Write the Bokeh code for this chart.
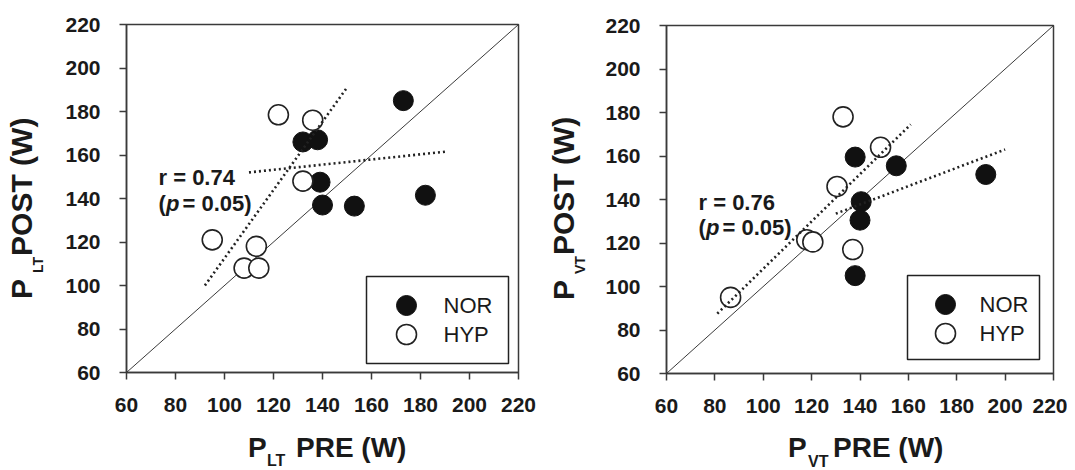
from bokeh.plotting import figure
from bokeh.models import Range1d, FixedTicker, Label, Div
from bokeh.layouts import row, column
from bokeh.core.properties import value
from bokeh.embed import file_html
from bokeh.resources import INLINE

# ---------------- data ----------------
ticks = [60, 80, 100, 120, 140, 160, 180, 200, 220]

# Lactate threshold panel
lt_nor_pre = [173, 132, 138, 139, 140, 153, 182]
lt_nor_post = [185, 166, 167, 147.5, 137, 136.5, 141.5]
lt_hyp_pre = [122, 136, 132, 95, 113, 108, 114]
lt_hyp_post = [178.5, 176, 148, 121, 118, 108, 108]
lt_nor_fit_x = [110, 190]
lt_nor_fit_y = [152, 161.5]
lt_hyp_fit_x = [92, 150]
lt_hyp_fit_y = [100, 191]
lt_stats = ["r = 0.74", "= 0.05)"]

# Ventilatory threshold panel
vt_nor_pre = [138, 155, 192, 140.5, 140, 138]
vt_nor_post = [159.5, 155.5, 151.5, 139, 130.5, 105]
vt_hyp_pre = [133, 148.5, 130.5, 118, 120.5, 137, 86.5]
vt_hyp_post = [178, 164, 146, 121.5, 120.5, 117, 95]
vt_nor_fit_x = [130, 200]
vt_nor_fit_y = [133.5, 163]
vt_hyp_fit_x = [81, 161]
vt_hyp_fit_y = [87.5, 174.5]
vt_stats = ["r = 0.76", "= 0.05)"]

identity = [60, 220]
groups = ["NOR", "HYP"]

FONT = "Liberation Sans"
DARK = "#1a1a1a"
LINE = "#3a3a3a"
FH = 348  # frame height in px


def lab(p, x, y, text, size, style="bold"):
    p.add_layout(Label(x=x, y=y, x_units="screen", y_units="screen", text=text,
                       text_font=FONT, text_font_size=f"{size}px",
                       text_font_style=style, text_color=DARK,
                       text_align="left", text_baseline="alphabetic"))


def panel(fw, left, right, top, bottom, nor_x, nor_y, hyp_x, hyp_y,
          nfx, nfy, hfx, hfy, stats, stat_pos, leg):
    p = figure(frame_width=fw, frame_height=FH, min_border_left=left,
               min_border_right=right, min_border_top=top, min_border_bottom=bottom,
               x_range=Range1d(60, 220), y_range=Range1d(60, 220),
               output_backend="svg", toolbar_location=None,
               background_fill_color="white", border_fill_color="white")
    p.extra_x_ranges = {"px": Range1d(0, fw)}
    p.extra_y_ranges = {"px": Range1d(0, FH)}
    p.xgrid.visible = False
    p.ygrid.visible = False
    p.outline_line_color = LINE
    p.outline_line_width = 1.5
    p.outline_line_alpha = 1.0
    for ax in (p.xaxis[0], p.yaxis[0]):
        ax.ticker = FixedTicker(ticks=ticks)
        ax.minor_tick_line_color = None
        ax.major_tick_in = 0
        ax.major_tick_out = 7
        ax.major_tick_line_color = LINE
        ax.major_tick_line_width = 1.5
        ax.axis_line_color = LINE
        ax.axis_line_width = 1.5
        ax.major_label_text_font = FONT
        ax.major_label_text_font_size = "21px"
        ax.major_label_text_font_style = "bold"
        ax.major_label_text_color = DARK
    p.xaxis.major_label_standoff = 18
    p.yaxis.major_label_standoff = 19

    p.line(identity, identity, line_color=LINE, line_width=1)
    p.scatter(nor_x, nor_y, size=20, marker="circle",
              fill_color="#111111", line_color="#111111", line_width=1)
    p.scatter(hyp_x, hyp_y, size=20, marker="circle",
              fill_color="white", line_color="#222222", line_width=1.6)
    for fx, fy in ((nfx, nfy), (hfx, hfy)):
        p.line(fx, fy, line_color="#222222", line_width=2.6,
               line_dash="2 3", line_cap="butt")

    # correlation annotation
    sx, sy1, sy2 = stat_pos
    lab(p, sx, sy1, stats[0], 22)
    lab(p, sx, sy2, "(", 22)
    lab(p, sx + 7.5, sy2, "p", 22, style="bold italic")
    lab(p, sx + 24, sy2, stats[1], 22)

    # legend box (drawn in frame-pixel coordinates)
    bx0, bx1, by0, by1 = leg["box"]
    p.quad(left=[bx0], right=[bx1], bottom=[by0], top=[by1],
           x_range_name="px", y_range_name="px",
           fill_color="white", line_color="#222222", line_width=1.5)
    mx, my1, my2, tx = leg["items"]
    p.scatter([mx], [my1], size=20, marker="circle", x_range_name="px", y_range_name="px",
              fill_color="#111111", line_color="#111111", line_width=1)
    p.scatter([mx], [my2], size=20, marker="circle", x_range_name="px", y_range_name="px",
              fill_color="white", line_color="#222222", line_width=1.6)
    p.text(x=[tx, tx], y=[my1, my2], text=groups, x_range_name="px", y_range_name="px",
           text_font=value(FONT), text_font_size="22px", text_color=DARK,
           text_baseline="middle", text_align="left")
    return p


SPAN = ("position:absolute;white-space:nowrap;line-height:1;font-family:'Liberation Sans';"
        "font-weight:bold;color:#1a1a1a;")


def xlab_div(width, height, parts):
    inner = "".join(
        f'<span style="{SPAN}left:{x}px;top:{t}px;font-size:{fs}px;">{txt}</span>'
        for (txt, x, t, fs) in parts)
    html = (f'<div style="position:relative;width:{width}px;height:{height}px;'
            f'overflow:hidden;">{inner}</div>')
    return Div(text=html, width=width, height=height, margin=0)


def ylab_div(width, height, L, T, sub):
    html = (f'<div style="position:relative;width:{width}px;height:{height}px;overflow:hidden;">'
            f'<div style="{SPAN}left:{L}px;top:{T}px;font-size:30px;'
            f'transform:rotate(-90deg);transform-origin:0 0;">P'
            f'<span style="font-size:14px;position:relative;top:11px;margin-left:6px;">{sub}</span>'
            f'<span style="margin-left:1px;">POST (W)</span></div></div>')
    return Div(text=html, width=width, height=height, margin=0)


p1 = panel(392, 81, 30, 24, 52, lt_nor_pre, lt_nor_post, lt_hyp_pre, lt_hyp_post,
           lt_nor_fit_x, lt_nor_fit_y, lt_hyp_fit_x, lt_hyp_fit_y, lt_stats,
           (32, 195, 169),
           {"box": (240, 382, 9, 96), "items": (280, 67, 38, 317)})
p2 = panel(387, 73, 14, 25, 51, vt_nor_pre, vt_nor_post, vt_hyp_pre, vt_hyp_post,
           vt_nor_fit_x, vt_nor_fit_y, vt_hyp_fit_x, vt_hyp_fit_y, vt_stats,
           (32, 171, 146),
           {"box": (241, 373, 14, 98), "items": (279, 69, 40, 313)})

y1 = ylab_div(45, 424, 6.6, 299, "LT")
y2 = ylab_div(45, 424, 1, 300, "VT")
x1 = xlab_div(548, 46, [("P", 248, 10.3, 28), ("LT", 267, 28.5, 16), ("PRE (W)", 296, 10.3, 28)])
x2 = xlab_div(519, 46, [("P", 240, 10.3, 28), ("VT", 260, 29.5, 16), ("PRE (W)", 285, 10.3, 28)])

layout = row(column(row(y1, p1), x1), column(row(y2, p2), x2))
open("out.html", "w").write(file_html(layout, INLINE))
